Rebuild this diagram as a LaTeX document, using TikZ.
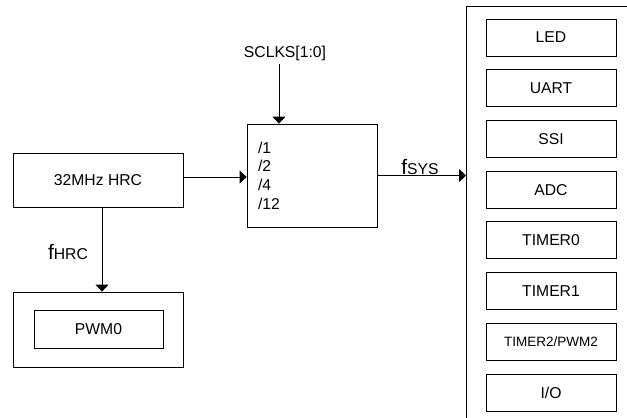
\documentclass[tikz,border=0pt]{standalone}
\usepackage{fontspec}
\setmainfont{Liberation Sans}
\usetikzlibrary{positioning, arrows.meta}
\tikzset{
    blk/.style={rectangle, draw, line width=0.8pt, inner sep=0pt},
    unit/.style={rectangle, draw, line width=0.8pt, minimum width=130pt, minimum height=37pt, inner sep=0pt},
    clkarrow/.style={-{Triangle[length=7pt,width=13pt]}, line width=0.8pt}
}
\newcommand{\fsub}[1]{{\fontsize{21}{21}\selectfont f}{\fontsize{15.7}{15.7}\selectfont #1}}

\begin{document}
\begin{tikzpicture}[x=1pt, y=-1pt, font=\fontsize{15.7}{18.7}\selectfont, node distance=12.9pt]
        \useasboundingbox (0,0) rectangle (627,418);
        % clock source and divider
        \node[blk, minimum width=170pt, minimum height=54pt] (hrc) at (98,180) {32MHz HRC};
        \node[blk, minimum width=130pt, minimum height=103pt, text width=108pt, inner xsep=11pt, align=left] (div) at (312,175.5) {/1\\/2\\/4\\/12};
        \node (sclks) at (285,53) {SCLKS[1:0]};
        % PWM0 block
        \node[blk, minimum width=170pt, minimum height=75pt] (pwmgrp) at (98,329.5) {};
        \node[blk, minimum width=129pt, minimum height=38pt] (pwm) at (98.5,329) {PWM0};
        \node (fhrc) at (68,252) {\fsub{HRC}};
        % peripherals on fSYS
        \node[blk, anchor=north west, minimum width=250pt, minimum height=450pt] (periph) at (466,6) {};
        \node[unit] (led) at (551,37.5) {LED};
        \node[unit, below=of led] (uart) {UART};
        \node[unit, below=of uart] (ssi) {SSI};
        \node[unit, below=of ssi] (adc) {ADC};
        \node[unit, below=of adc] (tmr0) {TIMER0};
        \node[unit, below=of tmr0] (tmr1) {TIMER1};
        \node[unit, below=of tmr1, font=\fontsize{13.5}{15}\selectfont] (tmr2) {TIMER2/PWM2};
        \node[unit, below=of tmr2] (io) {I/O};
        \node (fsys) at (420,167) {\fsub{SYS}};
        \draw[clkarrow] ([xshift=-6pt]sclks.south) -- ([xshift=-6pt]sclks.south |- div.north);
        \draw[clkarrow] ([yshift=3pt]hrc.east) -- ([yshift=3pt]hrc.east -| div.west);
        \draw[clkarrow] ([xshift=4pt]hrc.south) -- ([xshift=4pt]hrc.south |- pwmgrp.north);
        \draw[clkarrow] (div.east) -- (div.east -| periph.west);
    \end{tikzpicture}
\end{document}
